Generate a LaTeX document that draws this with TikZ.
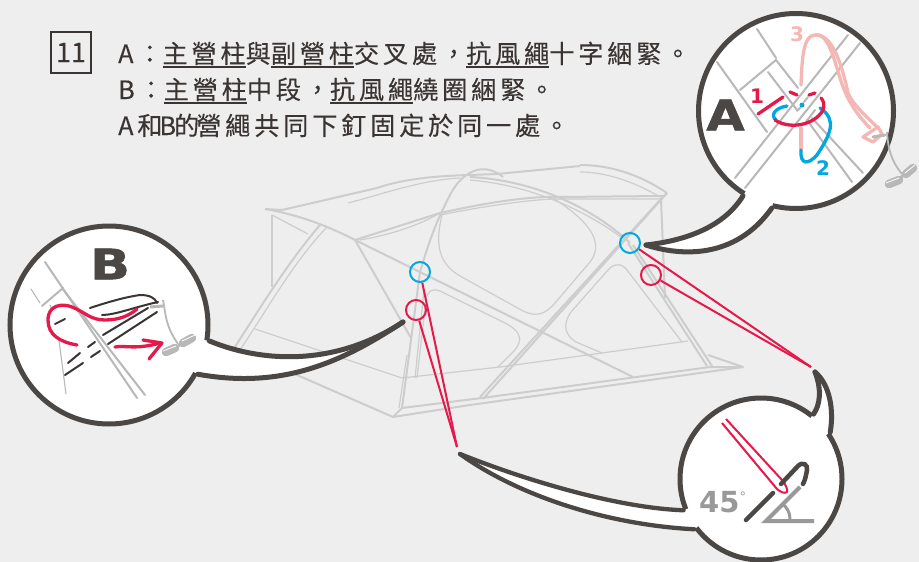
\documentclass[tikz,border=0pt]{standalone}
\usepackage{fontspec}
\newfontfamily\cjk[LetterSpace=15,FakeBold=0.25]{Noto Sans CJK TC}
\newfontfamily\cjkn[FakeBold=0.1]{Noto Sans CJK TC}
\newfontfamily\djv[BoldFeatures={FakeBold=1.2}]{DejaVu Sans}
\newfontfamily\djn{DejaVu Sans}
\newcommand\ulx[1]{\setbox0\hbox{#1}\rlap{\raisebox{-4.6pt}{\rule{\wd0}{1.5pt}}}\box0 }
\definecolor{bgc}{HTML}{EEEEEE}
\definecolor{tentc}{HTML}{CDCDCD}
\definecolor{inkc}{HTML}{4A4745}
\definecolor{textc}{HTML}{3A3533}
\definecolor{redc}{HTML}{E6194B}
\definecolor{bluec}{HTML}{00A7E0}
\definecolor{pinkc}{HTML}{F4B8B4}
\definecolor{grayc}{HTML}{B8B8B8}
\definecolor{midc}{HTML}{999999}
\tikzset{
  tent/.style={draw=tentc,line width=2pt,line join=round},
  tentthin/.style={draw=tentc,line width=1.2pt,line join=round},
  bubble/.style={circle,draw=inkc,line width=5pt,fill=white,inner sep=0pt},
  tailedge/.style={draw=inkc,line width=5pt,line cap=round},
  tailthin/.style={draw=inkc,line width=4.3pt,line cap=round},
  mark1/.style={circle,draw=bluec,line width=2pt,minimum size=20pt,inner sep=0pt},
  mark2/.style={circle,draw=redc,line width=2pt,minimum size=20pt,inner sep=0pt},
  guyb/.style={draw=redc,line width=2pt},
  gl/.style={draw=grayc,line width=2pt,line cap=round},
  glthin/.style={draw=grayc,line width=1.1pt,line cap=round},
  rline/.style={draw=redc,line width=3.3pt,line cap=round},
  bline/.style={draw=bluec,line width=3.3pt,line cap=round},
  pline/.style={draw=pinkc,line width=3.3pt,line cap=round,line join=round},
  dline/.style={draw=textc,line width=2pt,line cap=round},
  coil/.style={draw=grayc,line width=8.5pt,line cap=round},
  coilin/.style={draw=white,line width=.8pt,line cap=round},
  rope/.style={draw=grayc,line width=1.8pt},
  txt/.style={anchor=base west,inner sep=0pt,text=textc,font=\fontsize{25.2}{28}\selectfont\cjk},
  big/.style={inner sep=0pt,text=inkc,font=\fontsize{42}{42}\selectfont\djv\bfseries},
  num/.style={inner sep=0pt,font=\fontsize{20}{20}\selectfont\djn\bfseries},
}
\begin{document}
\begin{tikzpicture}[x=1pt,y=-1pt]
\fill[bgc] (0,0) rectangle (919,562);
\useasboundingbox (0,0) rectangle (919,562);
% heading
\node[draw=textc,line width=2.3pt,minimum width=40pt,minimum height=41pt,inner sep=0pt,text=textc,font=\fontsize{27}{27}\selectfont\cjkn] (num) at (71,52.5) {11};
\node[txt] (l1) at (118,63) {A：\ulx{主營柱}與\ulx{副營柱}交叉處，\ulx{抗風繩}十字綑緊。};
\node[txt] (l2) at (118,99) {B：\ulx{主營柱}中段，\ulx{抗風繩}繞圈綑緊。};
\node[txt] (l3) at (118,135) {A和\kern-3pt B\kern-2pt 的\kern-3pt 營繩共同下釘固定於同一處。};
% tent
\draw[tent] (265,209) .. controls (300,215) and (330,227) .. (355,240) -- (633,377);
\draw[tent] (265,209) -- (282,210);
\draw[tentthin] (272,215) -- (308,234);
\draw[tent] (272,215) -- (272,287);
\draw[tent] (320,225) .. controls (290,260) and (265,300) .. (233,350);
\draw[tentthin] (327,227) .. controls (295,260) and (270,305) .. (240,350);
\draw[tent] (282,210) -- (377,188) .. controls (400,180) and (430,176) .. (470,175) -- (497,174) -- (580,166);
\draw[tentthin] (348,203) .. controls (380,195) and (420,180) .. (460,178);
\draw[tent] (402,408) -- (420,272) .. controls (428,245) and (435,225) .. (445,205) .. controls (452,190) and (460,175) .. (477,170) .. controls (485,168) and (495,170) .. (503,177);
\draw[tentthin] (399,408) -- (407,355);
\draw[tentthin] (415,378) -- (424,290);
\draw[tent] (355,240) -- (411,338);
\draw[tent] (402,408) -- (393,417) -- (233,347);
\draw[tentthin] (255,329) -- (402,378) -- (500,367) -- (507,366) -- (602,353) -- (688,341);
\draw[tent] (402,408) -- (482,398) -- (710,367) -- (743,367) -- (708,355);
\draw[tent] (393,417) -- (470,405) -- (743,367);
\draw[tent] (355,240) -- (440,213) .. controls (490,202) and (530,196) .. (560,197) -- (663,196);
\draw[tentthin] (360,240) .. controls (390,235) and (420,225) .. (440,213);
\draw[tentthin] (440,215) .. controls (490,205) and (530,200) .. (553,199) -- (660,199);
\draw[tent] (580,165) .. controls (615,165) and (645,178) .. (667,193);
\draw[tentthin] (580,172) .. controls (610,172) and (640,185) .. (660,197);
\draw[tent] (470,177) .. controls (530,180) and (590,205) .. (630,243);
\draw[tentthin] (470,180) .. controls (530,185) and (585,210) .. (622,238);
\draw[tent] (667,193) -- (661,199) -- (480,397);
\draw[tent] (667,193) -- (483,399);
\draw[tent] (661,199) -- (665,298);
\draw[tent] (628,243) -- (707,366);
\draw[tent] (633,245) -- (712,366);
\draw[tentthin] (417,378) -- (426,300) .. controls (427,291) and (432,288) .. (440,291) -- (503,322) .. controls (524,332) and (522,342) .. (514,351) -- (498,367);
\draw[tentthin] (442,215) .. controls (436,240) and (436,262) .. (460,276) -- (523,311) .. controls (535,317) and (545,315) .. (555,303) -- (590,262) .. controls (603,245) and (595,225) .. (553,198);
\draw[tentthin] (682,342) -- (627,270) .. controls (622,263) and (614,263) .. (608,270) -- (571,312) .. controls (562,325) and (565,335) .. (576,342) -- (602,353);
% guy lines and marks
\coordinate (tipL) at (457,447);
\coordinate (tipR) at (811,367);
\node[mark1] (b1) at (420,272) {};
\node[mark2] (r1) at (416,310) {};
\node[mark1] (b2) at (630,243) {};
\node[mark2] (r2) at (651,275) {};
\draw[guyb] (b1) -- (tipL);
\draw[guyb] (r1) -- (tipL);
\draw[guyb] (b2) -- (tipR);
\draw[guyb] (r2) -- (tipR);
% bubble A
\node[bubble,minimum size=195pt] (bubA) at (796,111) {};
\coordinate (tipA) at (646,245);
\fill[white] (bubA.238) .. controls (725,225) and (690,240) .. (tipA) .. controls (680,256) and (735,260) .. (bubA.256) -- (bubA.center) -- cycle;
\draw[tailedge] (bubA.238) .. controls (725,225) and (690,240) .. (tipA);
\draw[tailedge] (tipA) .. controls (680,256) and (735,260) .. (bubA.256);
\draw[gl] (717,62) -- (767,132);
\draw[gl] (757,29) -- (776,58);
\draw[gl] (740,90) -- (776,60) -- (798,88);
\draw[gl] (735,178) -- (848,35);
\draw[gl] (745,188) -- (860,43);
\draw[gl] (768,72) -- (797,110);
\draw[gl] (807,120) -- (852,182);
\draw[gl] (812,118) -- (863,173);
\draw[gl] (797,111) -- (801,107);
\draw[gl] (804,102) -- (808,97);
\draw[gl] (806,122) -- (815,110);
\draw[pline] (801,85) .. controls (802,65) and (802,35) .. (815,35) .. controls (830,33) and (835,65) .. (843,87) .. controls (850,105) and (860,118) .. (870,128);
\draw[pline] (815,35) .. controls (832,33) and (842,65) .. (848,93) .. controls (853,105) and (868,118) .. (878,128);
\draw[pline] (863,137) -- (878,127) -- (882,134) -- (873,142) -- cycle;
\draw[pline] (801,128) -- (801,150);
\draw[bline] (801,150) .. controls (800,165) and (808,165) .. (817,155) .. controls (830,135) and (838,120) .. (820,108);
\draw[bline] (787,106) .. controls (775,108) and (770,115) .. (776,120);
\fill[bluec] (802,105) circle[radius=2.5pt];
\draw[rline] (758,114) -- (783,97);
\draw[rline] (775,120) .. controls (790,130) and (815,125) .. (823,110) .. controls (825,104) and (823,100) .. (821,98);
\draw[rline] (790,92) -- (797,95);
\draw[rline] (809,95) -- (815,93);
\draw[grayc,line width=3pt,line cap=round] (873,137) -- (885,135);
\draw[rope] (887,132) .. controls (888,150) and (892,162) .. (902,174);
\draw[coil] (889,184) -- (899,180);
\draw[coil] (906,174) -- (913,168);
\draw[grayc,line width=3pt] (899,179) -- (905,174);
\draw[coilin] (886,183) -- (899,178);
\draw[coilin] (905,173) -- (915,165);
\node[big,xscale=1.18] (la) at (725.5,115) {A};
\node[num,text=redc] (n1) at (757,96) {1};
\node[num,text=bluec] (n2) at (823,168) {2};
\node[num,text=pinkc] (n3) at (797,34) {3};
% bubble B
\node[bubble,minimum size=198pt] (bubB) at (109,325) {};
\coordinate (tipB) at (403,322);
\fill[white] (bubB.351) .. controls (255,360) and (330,370) .. (tipB) .. controls (345,360) and (285,390) .. (bubB.331) -- (bubB.center) -- cycle;
\draw[tailedge] (bubB.351) .. controls (255,360) and (330,370) .. (tipB);
\draw[tailedge] (tipB) .. controls (345,360) and (285,390) .. (bubB.331);
\draw[gl] (45,262) -- (137,398);
\draw[gl] (62,288) -- (145,395);
\draw[gl] (42,306) -- (63,288);
\draw[glthin] (31,289) -- (40,303);
\draw[glthin] (50,305) -- (52,310);
\draw[glthin] (59,340) -- (66,394);
\draw[dline] (90,308) .. controls (105,303) and (125,297) .. (140,295) .. controls (150,295) and (155,298) .. (157,303);
\draw[dline] (102,315) .. controls (115,315) and (135,307) .. (158,302);
\draw[dline] (148,308) -- (103,335);
\draw[dline] (95,342) -- (88,347);
\draw[dline] (80,353) -- (68,363);
\draw[dline] (157,312) -- (108,344);
\draw[dline] (100,351) -- (91,357);
\draw[dline] (83,363) -- (65,375);
\draw[dline] (55,324) -- (65,319);
\draw[grayc,line width=3pt] (150,307) -- (163,306);
\draw[rope] (163,300) .. controls (166,315) and (165,325) .. (178,344);
\draw[coil] (166,352) -- (175,348);
\draw[coil] (183,343) -- (192,338);
\draw[grayc,line width=3pt] (176,348) -- (182,343);
\draw[coilin] (163,351) -- (176,346);
\draw[coilin] (182,341) -- (195,335);
\draw[rline] (77,345) .. controls (60,342) and (48,335) .. (48,320) .. controls (48,305) and (62,303) .. (72,307) .. controls (85,312) and (90,320) .. (105,320) .. controls (120,320) and (130,315) .. (137,309);
\draw[rline] (115,347) .. controls (125,345) and (135,350) .. (160,343);
\draw[rline,line join=round] (143,340) -- (162,343) -- (149,359);
\node[big,xscale=1.25] (lb) at (110,264) {B};
% bubble C
\node[bubble,minimum size=162pt] (bubC) at (761,479) {};
\coordinate (tipC) at (815,372);
\coordinate (tipD) at (460,454);
\fill[white] (bubC.51) .. controls (820,405) and (822,390) .. (tipC) .. controls (830,385) and (834,410) .. (bubC.34) -- (bubC.center) -- cycle;
\draw[tailedge] (bubC.51) .. controls (820,405) and (822,390) .. (tipC);
\draw[tailedge] (tipC) .. controls (830,385) and (834,410) .. (bubC.34);
\fill[white] (bubC.202) .. controls (620,508) and (530,482) .. (tipD) .. controls (520,497) and (610,525) .. (bubC.217) -- (bubC.center) -- cycle;
\draw[tailthin] (bubC.202) .. controls (620,508) and (530,482) .. (tipD);
\draw[tailthin] (tipD) .. controls (520,497) and (610,525) .. (bubC.217);
\draw[guyb,line join=round] (726,419) -- (782,480) .. controls (786,485) and (788,490) .. (787,492) .. controls (785,494) and (780,492) .. (777,489) -- (722,423);
\draw[draw=inkc,line width=4.5pt,line cap=round] (781,484) -- (798,466) .. controls (803,461) and (808,465) .. (807,470) .. controls (806,476) and (805,480) .. (803,484);
\draw[draw=inkc,line width=4.5pt,line cap=round] (746,520) -- (773,493);
\draw[draw=midc,line width=4pt] (800,487) -- (766,521) -- (814,521);
\draw[draw=midc,line width=3pt] (782,503) .. controls (787,508) and (790,512) .. (790,519);
\node[inner sep=0pt,anchor=base west,text=midc,font=\fontsize{29}{29}\selectfont\djn\bfseries] (deg) at (699,512) {45\raisebox{11pt}{\fontsize{13}{13}\selectfont\mdseries°}};
\end{tikzpicture}
\end{document}
